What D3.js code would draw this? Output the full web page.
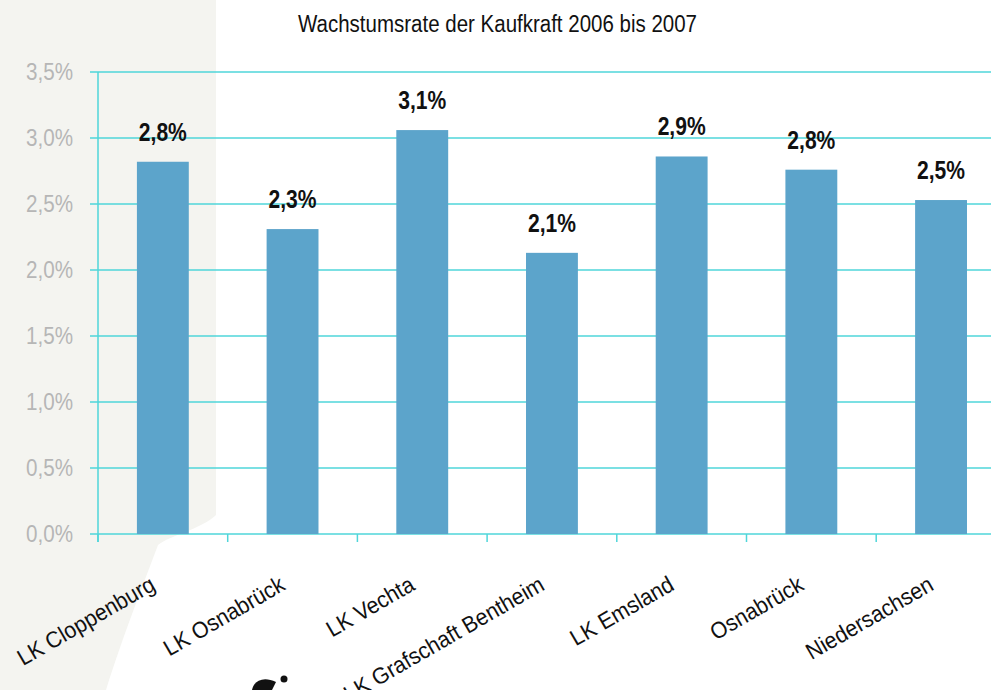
<!DOCTYPE html>
<html>
<head>
<meta charset="utf-8">
<script src="https://cdn.jsdelivr.net/npm/d3@7"></script>
<style>
  body { margin: 0; background: #fff; }
  svg { display: block; }
</style>
</head>
<body>
<div id="chart"></div>
<script>
// data
const categories = ["LK Cloppenburg", "LK Osnabrück", "LK Vechta", "LK Grafschaft Bentheim", "LK Emsland", "Osnabrück", "Niedersachsen"];
const values = [2.82, 2.31, 3.06, 2.13, 2.86, 2.76, 2.53];
const yTicks = [0, 0.5, 1.0, 1.5, 2.0, 2.5, 3.0, 3.5];
const title = "Wachstumsrate der Kaufkraft 2006 bis 2007";

const width = 991, height = 690;
const margin = { top: 72, left: 98, bottom: 156 };
const gridColor = "#4fd6da";
const font = "'Liberation Sans', Arial, sans-serif";

const de = d3.formatLocale({ decimal: ",", thousands: ".", grouping: [3], currency: ["", "€"] });
const fmt = d => de.format(".1f")(d) + "%";

const svg = d3.select("#chart").append("svg")
  .attr("width", width)
  .attr("height", height);

// grey backdrop on the left
svg.append("path")
  .attr("d", "M0,0 L216,0 L216,515 C200,530 170,535 158,545 C145,580 125,630 106,690 L0,690 Z")
  .attr("fill", "#f4f4f0");

const x = d3.scaleBand()
  .domain(categories)
  .range([margin.left, margin.left + 129.7 * categories.length]);

const y = d3.scaleLinear()
  .domain([0, 3.5])
  .range([height - margin.bottom, margin.top]);

// gridlines
svg.append("g")
  .selectAll("line")
  .data(yTicks)
  .join("line")
  .attr("x1", margin.left - 8)
  .attr("x2", width)
  .attr("y1", d => y(d))
  .attr("y2", d => y(d))
  .attr("stroke", gridColor)
  .attr("stroke-width", 1.5);

// y axis line
svg.append("line")
  .attr("x1", margin.left).attr("x2", margin.left)
  .attr("y1", y(3.5)).attr("y2", y(0) + 8)
  .attr("stroke", gridColor)
  .attr("stroke-width", 1.5);

// x ticks at band boundaries
svg.append("g")
  .selectAll("line")
  .data(categories)
  .join("line")
  .attr("x1", d => x(d))
  .attr("x2", d => x(d))
  .attr("y1", y(0))
  .attr("y2", y(0) + 8)
  .attr("stroke", gridColor)
  .attr("stroke-width", 1.5);

// y labels (narrow look via textLength)
svg.append("g")
  .selectAll("text")
  .data(yTicks)
  .join("text")
  .attr("x", 26)
  .attr("y", d => y(d) + 8)
  .attr("textLength", 47)
  .attr("lengthAdjust", "spacingAndGlyphs")
  .attr("font-family", font)
  .attr("font-size", 23)
  .attr("fill", "#b6b6b6")
  .text(d => fmt(d));

// bars
const barW = x.bandwidth() * 0.4;
svg.append("g")
  .selectAll("rect")
  .data(values)
  .join("rect")
  .attr("x", (d, i) => x(categories[i]) + x.bandwidth() / 2 - barW / 2)
  .attr("y", d => y(d))
  .attr("width", barW)
  .attr("height", d => y(0) - y(d))
  .attr("fill", "#5ca4cb");

// value labels
svg.append("g")
  .selectAll("text")
  .data(values)
  .join("text")
  .attr("x", (d, i) => x(categories[i]) + x.bandwidth() / 2 - 24)
  .attr("y", d => y(d) - 21)
  .attr("textLength", 48)
  .attr("lengthAdjust", "spacingAndGlyphs")
  .attr("font-family", font)
  .attr("font-weight", "bold")
  .attr("font-size", 25)
  .attr("fill", "#111")
  .text(d => fmt(d));

// category labels, rotated
svg.append("g")
  .selectAll("text")
  .data(categories)
  .join("text")
  .attr("transform", d => `translate(${x(d) + x.bandwidth() / 2 - 6},${y(0) + 55}) rotate(-30) scale(0.93,1)`)
  .attr("text-anchor", "end")
  .attr("font-family", font)
  .attr("font-size", 23)
  .attr("fill", "#111")
  .text(d => d);

// title
svg.append("text")
  .attr("x", 298)
  .attr("y", 32)
  .attr("textLength", 399)
  .attr("lengthAdjust", "spacingAndGlyphs")
  .attr("font-family", font)
  .attr("font-size", 23)
  .attr("fill", "#111")
  .text(title);

// bit of a logo cut off at the bottom
svg.append("path")
  .attr("d", "M252,690 C254,680 264,676 276,682 L272,690 Z")
  .attr("fill", "#111");
svg.append("circle")
  .attr("cx", 284).attr("cy", 679).attr("r", 3.5)
  .attr("fill", "#111");
</script>
</body>
</html>
